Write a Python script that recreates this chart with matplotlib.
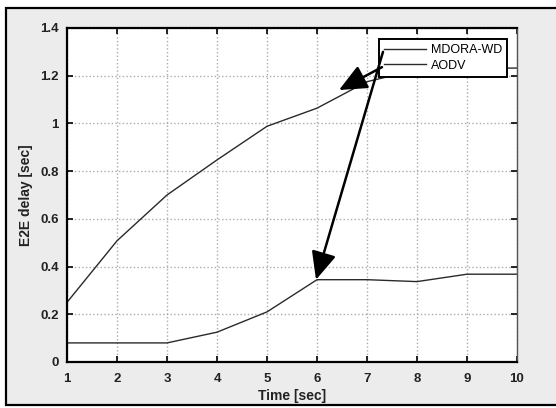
import matplotlib.pyplot as plt
from matplotlib.patches import Rectangle
import numpy as np

plt.rcParams['font.family'] = ['Liberation Sans', 'DejaVu Sans']

# simulation results
time_s = [1, 2, 3, 4, 5, 6, 7, 8, 9, 10]
mdora_wd = [0.08, 0.08, 0.08, 0.125, 0.21, 0.345, 0.345, 0.337, 0.368, 0.368]
aodv = [0.25, 0.508, 0.70, 0.847, 0.988, 1.064, 1.175, 1.225, 1.232, 1.232]

fig = plt.figure(figsize=(5.56, 4.08), dpi=100)
fig.patch.set_facecolor('white')

# grey panel with black frame behind the axes
frame = Rectangle((6 / 556, 3 / 408), 1.0, 1 - 11 / 408, transform=fig.transFigure,
                  facecolor='#ececec', edgecolor='black', linewidth=1.6, zorder=-1)
fig.patches.append(frame)

ax = fig.add_axes([67 / 556, 46 / 408, 450 / 556, 334 / 408])
ax.set_facecolor('white')

ax.plot(time_s, mdora_wd, color='#2a2a2a', linewidth=1.0, label='MDORA-WD')
ax.plot(time_s, aodv, color='#2a2a2a', linewidth=1.0, label='AODV')

ax.set_xlim(1, 10)
ax.set_ylim(0, 1.4)
ax.set_xticks(np.arange(1, 11))
ax.set_yticks([0, 0.2, 0.4, 0.6, 0.8, 1, 1.2, 1.4])
ax.set_yticklabels(['0', '0.2', '0.4', '0.6', '0.8', '1', '1.2', '1.4'])
ax.grid(True, linestyle=':', color='#ababab', linewidth=1.0)
ax.tick_params(direction='in', top=True, right=True, length=4, width=1.2,
               labelsize=9.5)
ax.tick_params(axis='x', pad=8)
ax.tick_params(axis='y', pad=6)
for lab in ax.get_xticklabels() + ax.get_yticklabels():
    lab.set_fontweight('bold')
    lab.set_color('#222222')
for side in ['left', 'bottom', 'top']:
    ax.spines[side].set_linewidth(1.6)
ax.spines['right'].set_linewidth(1.0)
ax.spines['right'].set_color('#555555')

ax.set_xlabel('Time [sec]', fontsize=10, fontweight='bold', labelpad=3,
              color='#222222')
ax.set_ylabel('E2E delay [sec]', fontsize=10, fontweight='bold', labelpad=5,
              color='#222222')

leg = ax.legend(loc='upper left', bbox_to_anchor=(0.693, 0.967), fontsize=9,
                frameon=True, fancybox=False, edgecolor='black', framealpha=1,
                handlelength=3.4, handletextpad=0.35, borderpad=0.4,
                labelspacing=0.3, borderaxespad=0)
leg.get_frame().set_linewidth(1.4)
leg.set_zorder(4)

# arrows from the legend entries to the curves
arrow = dict(arrowstyle='-|>,head_length=1.0,head_width=0.45', color='black',
             linewidth=1.8, mutation_scale=17, shrinkA=0, shrinkB=0)
ax.annotate('', xy=(6.44, 1.14), xytext=(7.3, 1.236), arrowprops=arrow, zorder=6)
ax.annotate('', xy=(5.98, 0.345), xytext=(7.32, 1.30), arrowprops=arrow, zorder=6)

fig.savefig('out.png', dpi=100)
